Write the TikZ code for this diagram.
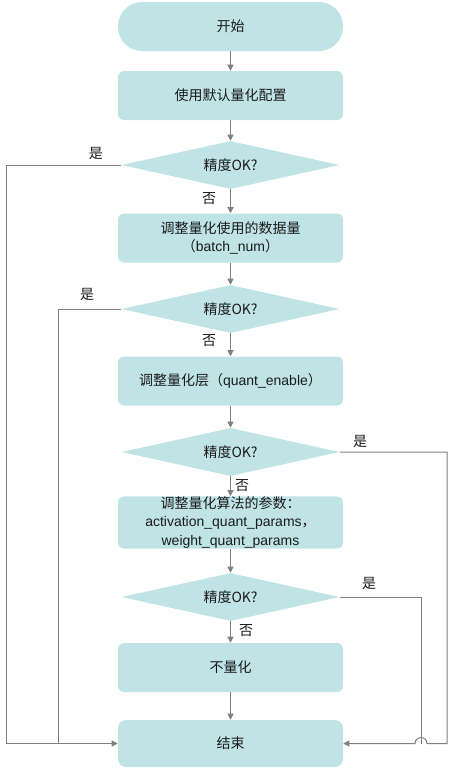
\documentclass[tikz,border=0pt]{standalone}
\usepackage{fontspec}
\setmainfont{Liberation Sans}
\newfontfamily\cjk{Noto Sans CJK SC}
\usetikzlibrary{shapes.geometric,arrows.meta}

\definecolor{boxfill}{HTML}{C0E4E6}
\definecolor{linegray}{HTML}{808080}
\definecolor{txt}{HTML}{1A1A1A}

\tikzset{
  base/.style={fill=boxfill,draw=none,text=txt,font=\fontsize{10.5}{14}\selectfont,
    align=center,inner sep=0pt},
  terminal/.style={base,rounded corners=18pt,minimum width=168.75pt,minimum height=36.75pt},
  endbox/.style={base,rounded corners=6pt,minimum width=168.75pt,minimum height=35.25pt},
  proc/.style={base,rounded corners=4.5pt,minimum width=168.75pt,minimum height=36.75pt},
  decide/.style={base,diamond,aspect=4.54,minimum width=163.5pt,minimum height=36pt},
  link/.style={draw=linegray,line width=0.75pt},
  flow/.style={link,-{Triangle[length=4.5pt,width=4.5pt]}},
  tag/.style={text=txt,font=\cjk\fontsize{10.5}{12}\selectfont,inner sep=0pt}
}

\begin{document}
\begin{tikzpicture}[x=0.75pt,y=-0.75pt,line cap=butt,line join=miter]
  \useasboundingbox (0,0) rectangle (452,769);

  % main column
  \node[terminal] (start) at (230.5,26.5) {\cjk 开始};
  \node[proc] (cfg) at (230.5,95.5) {\cjk 使用默认量化配置};
  \node[decide] (chk1) at (230.5,165) {\cjk 精度OK?};
  \node[proc] (num) at (230.5,238) {{\cjk 调整量化使用的数据量}\\{\cjk （}batch\_num{\cjk ）}};
  \node[decide] (chk2) at (230.5,309) {\cjk 精度OK?};
  \node[proc] (layer) at (230.5,381) {{\cjk 调整量化层（}quant\_enable{\cjk ）}};
  \node[decide] (chk3) at (230.5,452) {\cjk 精度OK?};
  \node[proc] (algo) at (230.5,522.5) {{\cjk 调整量化算法的参数：}\\activation\_quant\_params{\cjk ，}\\weight\_quant\_params};
  \node[decide] (chk4) at (230.5,597) {\cjk 精度OK?};
  \node[proc] (noq) at (230.5,667.5) {\cjk 不量化};
  \node[endbox] (end) at (230.5,743.5) {\cjk 结束};

  \draw[flow] (start) -- (cfg);
  \draw[flow] (cfg) -- (chk1);
  \draw[flow] (chk1) -- (num);
  \draw[flow] (num) -- (chk2);
  \draw[flow] (chk2) -- (layer);
  \draw[flow] (layer) -- (chk3);
  \draw[flow] (chk3) -- (algo);
  \draw[flow] (algo) -- (chk4);
  \draw[flow] (chk4) -- (noq);
  \draw[flow] (noq) -- (end);

  % "yes" branches to the end
  \coordinate (lft1) at (6,165);
  \coordinate (lft1b) at (6,743.5);
  \coordinate (lft2) at (58,309);
  \coordinate (lft2b) at (58,743.5);
  \coordinate (rgt1) at (447,452);
  \coordinate (rgt1b) at (447,743.5);
  \coordinate (hop) at (427,743.5);
  \coordinate (rgt2) at (421,597);
  \coordinate (rgt2b) at (421,743.5);

  \draw[flow] (chk1.west) -- (lft1) -- (lft1b) -- (end.west);
  \draw[link] (chk2.west) -- (lft2) -- (lft2b);
  \draw[flow] (chk3.east) -- (rgt1) -- (rgt1b) -- (hop)
    arc[start angle=0,end angle=-180,radius=6] -- (end.east);
  \draw[link] (chk4.east) -- (rgt2) -- (rgt2b);

  \node[tag] (y1) at (96,153) {是};
  \node[tag] (y2) at (87,294) {是};
  \node[tag] (y3) at (360,441) {是};
  \node[tag] (y4) at (369,583) {是};
  \node[tag] (n1) at (209,199) {否};
  \node[tag] (n2) at (209,341) {否};
  \node[tag] (n3) at (242,486) {否};
  \node[tag] (n4) at (246,631) {否};
\end{tikzpicture}
\end{document}
